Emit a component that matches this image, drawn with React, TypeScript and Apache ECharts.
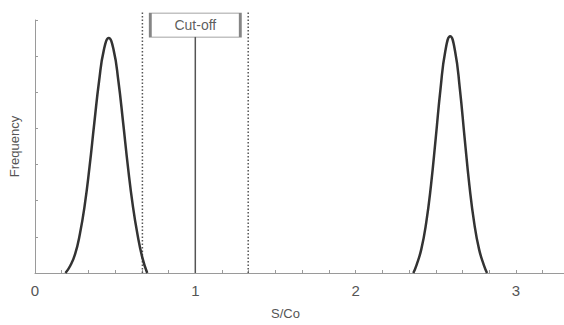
import React, { useEffect, useRef } from "react";
import * as echarts from "echarts";

// Curve 1 (negative population): [S/Co, frequency]
const negX = [0.19, 0.22, 0.25, 0.28, 0.31, 0.34, 0.37, 0.40, 0.43, 0.46, 0.49, 0.52, 0.55, 0.58, 0.61, 0.64, 0.67, 0.70];
const negY = [0.0, 0.2, 0.52, 1.08, 1.87, 2.93, 4.15, 5.32, 6.18, 6.5, 6.18, 5.32, 4.15, 2.93, 1.87, 1.05, 0.42, 0.0];
// Curve 2 (positive population)
const posX = [2.36, 2.38, 2.41, 2.44, 2.47, 2.50, 2.53, 2.56, 2.59, 2.62, 2.65, 2.68, 2.71, 2.74, 2.77, 2.80, 2.82];
const posY = [0.0, 0.22, 0.66, 1.38, 2.42, 3.74, 5.11, 6.15, 6.55, 6.15, 5.11, 3.74, 2.42, 1.38, 0.66, 0.22, 0.0];

const cutoff = 1;
const greyZone = [0.67, 1.33];
const greyTop = 7.22;
const cutoffLineTop = 6.54;
const cutoffLabelY = 6.86;
const cutoffLabel = "Cut-off";
const xName = "S/Co";
const yName = "Frequency";

const FONT = "'Liberation Sans', Arial, Helvetica, sans-serif";

export default function App() {
  const ref = useRef<HTMLDivElement>(null);
  useEffect(() => {
    if (!ref.current) return;
    const chart = echarts.init(ref.current, undefined, { renderer: "svg" });
    const axisGrey = "#9a9a9a";
    chart.setOption({
      animation: false,
      backgroundColor: "#ffffff",
      grid: { left: 34, right: 0, top: 20, bottom: 46 },
      xAxis: {
        type: "value",
        min: 0,
        max: 3.3,
        interval: 1 / 6,
        splitLine: { show: false },
        axisLine: { lineStyle: { color: axisGrey, width: 1 } },
        axisTick: { inside: true, length: 3, lineStyle: { color: axisGrey } },
        axisLabel: {
          margin: 10,
          fontSize: 15,
          color: "#555",
          fontFamily: FONT,
          showMaxLabel: false,
          formatter: (v: number) =>
            Math.abs(v - Math.round(v)) < 1e-6 ? String(Math.round(v)) : "",
        },
        name: xName,
        nameLocation: "middle",
        nameGap: 34,
        nameTextStyle: { fontSize: 13, color: "#555", fontFamily: FONT, padding: [0, 28, 0, 0] },
      },
      yAxis: {
        type: "value",
        min: 0,
        max: 7,
        interval: 1,
        splitLine: { show: false },
        axisLine: { show: true, lineStyle: { color: axisGrey, width: 1 } },
        axisTick: { show: true, inside: true, length: 3, lineStyle: { color: axisGrey } },
        axisLabel: { show: false },
        name: yName,
        nameLocation: "middle",
        nameGap: 14,
        nameTextStyle: { fontSize: 13, color: "#555", fontFamily: FONT },
      },
      series: [
        {
          type: "line",
          data: negX.map((x, i) => [x, negY[i]]),
          smooth: true,
          showSymbol: false,
          lineStyle: { color: "#333", width: 2.5 },
          z: 3,
        },
        {
          type: "line",
          data: posX.map((x, i) => [x, posY[i]]),
          smooth: true,
          showSymbol: false,
          lineStyle: { color: "#333", width: 2.5 },
          z: 3,
        },
        ...greyZone.map((g) => ({
          type: "line",
          data: [
            [g, 0],
            [g, greyTop],
          ],
          showSymbol: false,
          clip: false,
          lineStyle: { color: "#555", width: 1.5, type: [1.5, 2] },
          z: 2,
        })),
        {
          type: "line",
          data: [
            [cutoff, 0],
            [cutoff, cutoffLineTop],
          ],
          showSymbol: false,
          clip: false,
          lineStyle: { color: "#555", width: 1.5 },
          z: 2,
        },
        {
          type: "scatter",
          data: [[cutoff, cutoffLabelY]],
          symbol: "rect",
          symbolSize: [90, 24],
          clip: false,
          itemStyle: { color: "#fff", borderColor: "#666", borderWidth: 1.5 },
          label: {
            show: true,
            position: "inside",
            formatter: cutoffLabel,
            fontSize: 14,
            color: "#333",
            fontFamily: FONT,
          },
          z: 4,
        },
      ],
    });
    return () => chart.dispose();
  }, []);
  return (
    <div
      ref={ref}
      style={{ position: "fixed", left: 0, top: 0, width: 564, height: 325 }}
    />
  );
}
